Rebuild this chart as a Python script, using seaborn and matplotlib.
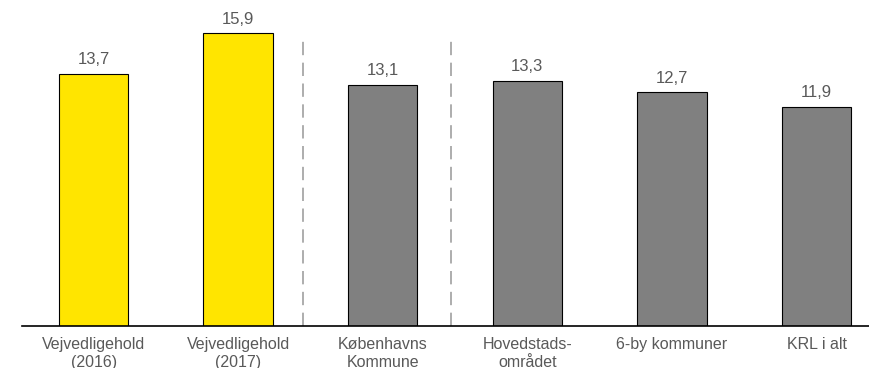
import matplotlib
matplotlib.use("Agg")
import matplotlib.pyplot as plt
import pandas as pd
import seaborn as sns

categories = [
    "Vejvedligehold\n(2016)",
    "Vejvedligehold\n(2017)",
    "Københavns\nKommune",
    "Hovedstads-\nområdet",
    "6-by kommuner",
    "KRL i alt",
]
values = [13.7, 15.9, 13.1, 13.3, 12.7, 11.9]
colors = ["#FFE500", "#FFE500", "#808080", "#808080", "#808080", "#808080"]

sns.set_style("white")
plt.rcParams["font.family"] = ["Liberation Sans", "DejaVu Sans"]

df = pd.DataFrame({"category": categories, "value": values})

fig = plt.figure(figsize=(8.7, 3.68), dpi=100)
ax = fig.add_axes([22 / 870, 42 / 368, 1 - 22 / 870, 326 / 368])

sns.barplot(data=df, x="category", y="value", hue="category", palette=colors,
            legend=False, width=0.48, edgecolor="black", linewidth=0.8,
            saturation=1, ax=ax)

for i, v in enumerate(values):
    ax.text(i, v + 0.35, f"{v:.1f}".replace(".", ","), ha="center", va="bottom",
            fontsize=12, color="#595959")

# group separators between the yellow, Copenhagen and comparison bars
for x in [1.45, 2.47]:
    ax.plot([x, x], [0, 15.8], color="#A0A0A0", linestyle=(0, (8, 4.5)), linewidth=1.2)

ax.set_xlim(-0.495, 5.37)
ax.set_ylim(0, 17.69)
ax.set_xlabel("")
ax.set_ylabel("")
ax.set_yticks([])
ax.tick_params(axis="x", length=0, pad=8, labelsize=11.5, labelcolor="#595959")
for lbl in ax.get_xticklabels():
    lbl.set_linespacing(1.25)
for s in ["top", "right", "left"]:
    ax.spines[s].set_visible(False)
ax.spines["bottom"].set_color("black")
ax.spines["bottom"].set_linewidth(1.2)

fig.savefig("out.png", dpi=100)
